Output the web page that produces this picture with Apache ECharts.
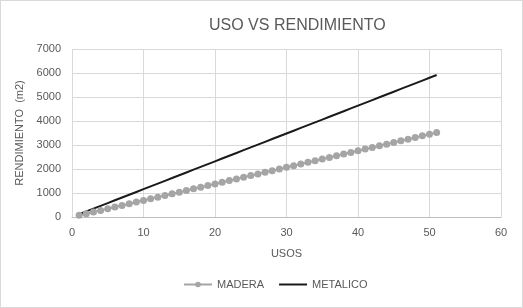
<!DOCTYPE html>
<html>
<head>
<meta charset="utf-8">
<script src="https://cdn.jsdelivr.net/npm/echarts@6/dist/echarts.min.js"></script>
<style>
  html, body { margin: 0; padding: 0; background: #fff; }
  #chart { width: 521px; height: 306px; border: 1px solid #d9d9d9; }
</style>
</head>
<body>
<div id="chart"></div>
<script>
// usos (x) y rendimiento (m2)
const usos = [1, 2, 3, 4, 5, 6, 7, 8, 9, 10, 11, 12, 13, 14, 15, 16, 17, 18, 19, 20,
  21, 22, 23, 24, 25, 26, 27, 28, 29, 30, 31, 32, 33, 34, 35, 36, 37, 38, 39, 40,
  41, 42, 43, 44, 45, 46, 47, 48, 49, 50, 51]
const madera = [69, 138, 207, 276, 345, 414, 483, 552, 621, 690, 759, 828, 897, 966, 1035,
  1104, 1173, 1242, 1311, 1380, 1449, 1518, 1587, 1656, 1725, 1794, 1863, 1932, 2001, 2070,
  2139, 2208, 2277, 2346, 2415, 2484, 2553, 2622, 2691, 2760, 2829, 2898, 2967, 3036, 3105,
  3174, 3243, 3312, 3381, 3450, 3519]
const metalico = [116, 232, 348, 464, 580, 696, 812, 928, 1044, 1160, 1276, 1392, 1508, 1624,
  1740, 1856, 1972, 2088, 2204, 2320, 2436, 2552, 2668, 2784, 2900, 3016, 3132, 3248, 3364,
  3480, 3596, 3712, 3828, 3944, 4060, 4176, 4292, 4408, 4524, 4640, 4756, 4872, 4988, 5104,
  5220, 5336, 5452, 5568, 5684, 5800, 5916]

const font = "Liberation Sans"
const textColor = "#595959"

const myChart = echarts.init(document.getElementById("chart"))

const option = {
  animation: false,
  textStyle: { fontFamily: font },
  title: {
    text: "USO VS RENDIMIENTO",
    left: 203,
    top: 12,
    textStyle: { fontFamily: font, fontSize: 16, fontWeight: "normal", color: textColor }
  },
  legend: {
    bottom: 12,
    left: 177,
    itemWidth: 28,
    itemHeight: 7,
    itemGap: 14,
    textStyle: { fontFamily: font, fontSize: 11, color: textColor },
    data: [
      "MADERA",
      { name: "METALICO", itemStyle: { color: "rgba(0,0,0,0)", borderWidth: 0 } }
    ]
  },
  grid: { left: 71, right: 21, top: 48, bottom: 90 },
  xAxis: {
    type: "value",
    min: 0,
    max: 60,
    interval: 10,
    name: "USOS",
    nameLocation: "middle",
    nameGap: 31,
    nameTextStyle: { fontFamily: font, fontSize: 11, color: textColor },
    axisLine: { show: true, lineStyle: { color: "#bfbfbf" } },
    axisTick: { show: false },
    axisLabel: { fontSize: 11, color: textColor, margin: 10 },
    splitLine: { show: true, lineStyle: { color: "#d9d9d9" } }
  },
  yAxis: {
    type: "value",
    min: 0,
    max: 7000,
    interval: 1000,
    name: "RENDIMIENTO  (m2)",
    nameLocation: "middle",
    nameGap: 44,
    nameTextStyle: { fontFamily: font, fontSize: 11, color: textColor },
    axisLine: { show: false },
    axisTick: { show: false },
    axisLabel: { fontSize: 11, color: textColor, margin: 11, formatter: (v) => String(v) },
    splitLine: { show: true, lineStyle: { color: "#d9d9d9" } }
  },
  series: [
    {
      name: "MADERA",
      type: "line",
      symbol: "circle",
      symbolSize: 7,
      itemStyle: { color: "#a5a5a5" },
      lineStyle: { color: "#a5a5a5", width: 2 },
      data: usos.map((u, i) => [u, madera[i]])
    },
    {
      name: "METALICO",
      type: "line",
      symbol: "none",
      itemStyle: { color: "#1a1a1a" },
      lineStyle: { color: "#1a1a1a", width: 2 },
      data: usos.map((u, i) => [u, metalico[i]])
    }
  ]
}
myChart.setOption(option, true)
</script>
</body>
</html>
